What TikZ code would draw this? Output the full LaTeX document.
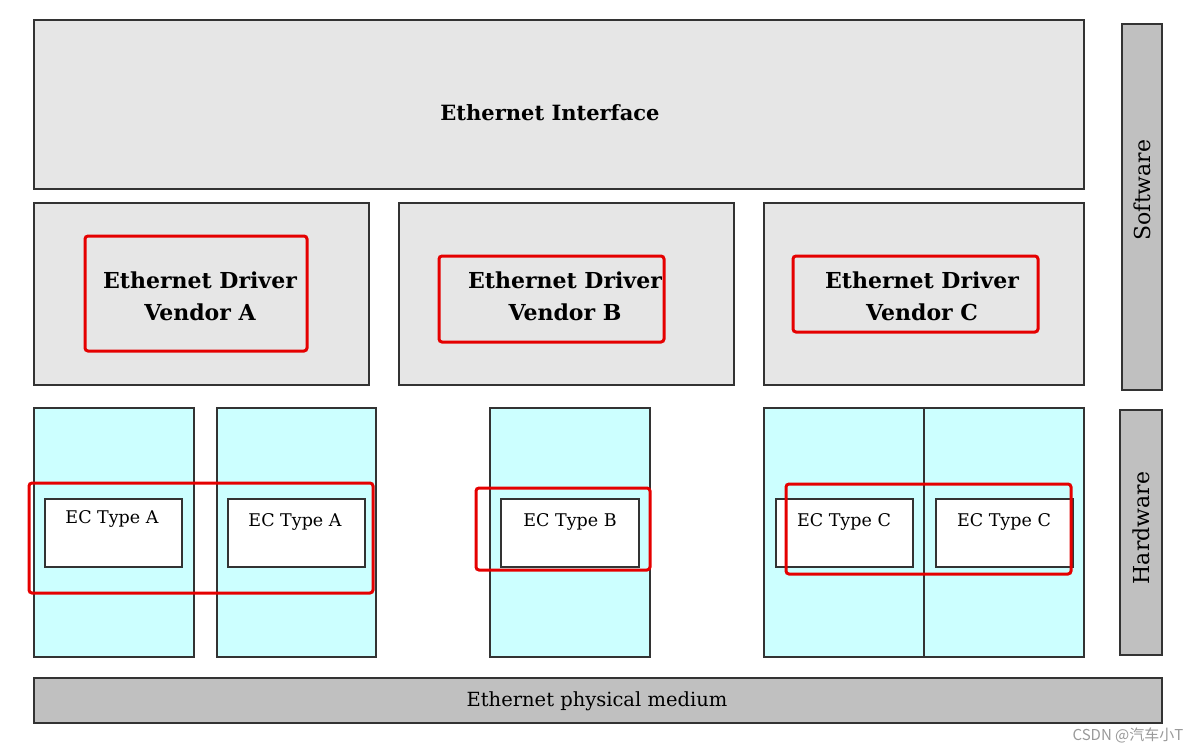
\documentclass[tikz,border=0pt]{standalone}
\usepackage{fontspec}
\setmainfont{DejaVu Serif}
\newfontfamily\cjk{Noto Sans CJK SC}
\definecolor{hwcyan}{RGB}{204,255,255}
\definecolor{swgray}{RGB}{230,230,230}
\definecolor{bargray}{RGB}{192,192,192}
\begin{document}
\begin{tikzpicture}[x=1pt,y=-1pt,
  box/.style={draw=black!80,line width=1.2pt},
  sw/.style={box,fill=swgray},
  hw/.style={box,fill=hwcyan},
  bar/.style={box,fill=bargray},
  ec/.style={box,fill=white},
  redmark/.style={draw=red!90!black,line width=3pt,rounded corners=3pt},
  big/.style={font=\fontsize{21}{24}\selectfont\bfseries,align=center},
  drv/.style={font=\fontsize{22}{32}\selectfont\bfseries,align=center},
  small/.style={font=\fontsize{17.5}{18}\selectfont},
  side/.style={font=\fontsize{22}{22}\selectfont,rotate=90}]
\useasboundingbox (0,0) rectangle (1202,752);
% software
\draw[sw] (34,20) rectangle (1084,189);
\node[big] (ei) at (550,113) {Ethernet Interface};
\draw[sw] (34,203) rectangle (369,385);
\draw[sw] (399,203) rectangle (734,385);
\draw[sw] (764,203) rectangle (1084,385);
\node[drv] (da) at (200,296) {Ethernet Driver\\Vendor A};
\node[drv] (db) at (565,296) {Ethernet Driver\\Vendor B};
\node[drv] (dc) at (922,296) {Ethernet Driver\\Vendor C};
\draw[redmark] (85,236) rectangle (307,351);
\draw[redmark] (439,256) rectangle (664,342);
\draw[redmark] (793,256) rectangle (1038,332);
% hardware
\draw[hw] (34,408) rectangle (194,657);
\draw[hw] (217,408) rectangle (376,657);
\draw[hw] (490,408) rectangle (650,657);
\draw[hw] (764,408) rectangle (1084,657);
\draw[box] (924,408) -- (924,657);
\draw[ec] (45,499) rectangle (182,567);
\draw[ec] (228,499) rectangle (365,567);
\draw[ec] (501,499) rectangle (639,567);
\draw[ec] (776,499) rectangle (913,567);
\draw[ec] (936,499) rectangle (1073,567);
\node[small] (e1) at (112,519) {EC Type A};
\node[small] (e2) at (295,522) {EC Type A};
\node[small] (e3) at (570,522) {EC Type B};
\node[small] (e4) at (844,522) {EC Type C};
\node[small] (e5) at (1004,522) {EC Type C};
\draw[redmark] (29,483) rectangle (373,593);
\draw[redmark] (476,488) rectangle (650,570);
\draw[redmark] (786,484) rectangle (1071,574);
% side bars
\draw[bar] (1122,24) rectangle (1162,390);
\node[side] (swl) at (1142,190) {Software};
\draw[bar] (1120,410) rectangle (1162,655);
\node[side] (hwl) at (1141,528) {Hardware};
\draw[bar] (34,678) rectangle (1162,723);
\node[font=\fontsize{19.5}{20}\selectfont] (pm) at (597,701) {Ethernet physical medium};
\node[font=\fontsize{15}{16}\selectfont\cjk,text=black!40] (wm) at (1128,735) {CSDN @汽车小T};
\end{tikzpicture}
\end{document}
